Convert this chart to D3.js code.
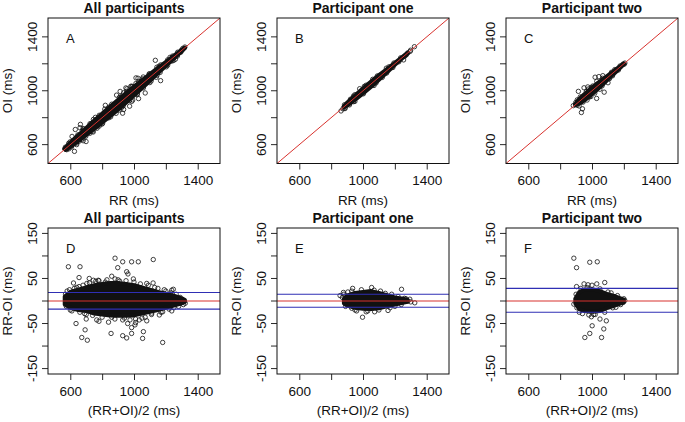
<!DOCTYPE html>
<html><head><meta charset="utf-8">
<script src="https://cdn.jsdelivr.net/npm/d3@7"></script>
<style>body{margin:0;background:#fff}svg{display:block}</style>
</head><body>
<svg id="c" width="685" height="422"></svg>
<script>
// ---------- DATA ----------
const titles = ["All participants", "Participant one", "Participant two"];
const topLetters = ["A", "B", "C"];
const botLetters = ["D", "E", "F"];
const axisTicks = [600, 800, 1000, 1200, 1400];
const axisLabels = [600, 1000, 1400];
const diffTicks = [-150, -100, -50, 0, 50, 100, 150];
const diffLabels = [-150, -50, 50, 150];

// dense core of the cloud (read as envelope): mean (ms), upper and lower RR-OI (ms)
const coreAllMean = [565, 600, 650, 700, 750, 800, 850, 900, 950, 1000, 1050, 1100, 1150, 1200, 1250, 1300, 1320];
const coreAllUp   = [10, 20, 25, 30, 35, 38, 40, 40, 38, 35, 30, 25, 20, 16, 12, 6, 2];
const coreAllLo   = [-8, -15, -20, -22, -28, -30, -32, -33, -33, -32, -28, -24, -20, -15, -10, -5, -2];

const coreOneMean = [880, 900, 950, 1000, 1050, 1100, 1150, 1200, 1250, 1280];
const coreOneUp   = [5, 12, 18, 20, 22, 18, 13, 8, 5, 3];
const coreOneLo   = [-5, -10, -15, -17, -18, -16, -12, -8, -4, -2];

const coreTwoMean = [895, 920, 950, 1000, 1050, 1100, 1150, 1200];
const coreTwoUp   = [5, 20, 25, 26, 22, 15, 10, 3];
const coreTwoLo   = [-5, -18, -22, -24, -22, -15, -9, -3];

// individually visible beats: mean (ms) and RR-OI (ms)
const ptsAllMean = [588, 661, 655, 655, 881, 898, 929, 985, 1027, 1121, 954, 962, 996, 1080, 881, 719, 704, 776, 745, 1237, 1247, 1299, 1322, 1237, 1180,
  636, 672, 693, 707, 766, 856, 840, 960, 929, 954, 985, 985, 1006, 1059, 1054, 1180, 1080, 929, 1033, 1159, 1111,
  580, 600, 625, 690, 760, 820, 860, 910, 940, 1010, 1040, 1070, 1130, 1200, 1265, 1280, 1220,
  570, 575, 595, 610, 640, 660, 680, 700, 720, 740, 780, 800, 830, 880, 900, 950, 975, 1000, 1050, 1090, 1110, 1150, 1170, 1190, 1230, 1250, 1290, 1310, 620, 700, 860, 1010, 1120, 780];
const ptsAllDiff = [76, 76, 52, 32, 95, 74, 87, 87, 87, 92, 65, 60, 49, 39, 49, 50, 39, 46, 46, 24, 26, -3, -5, -22, -24,
  -50, -81, -64, -87, -42, -72, -47, -50, -77, -82, -72, -59, -53, -68, -83, -92, -44, -42, -42, -31, -27,
  22, -20, 28, -28, 44, 42, -36, 44, -38, -40, 38, -36, 30, 22, 15, -12, -18,
  15, -12, 25, -22, 30, -25, 35, -30, 40, -32, 45, -36, 47, -40, 47, 45, -42, 42, -38, 35, -30, 28, -25, 25, 18, -15, 8, -8, 40, -40, 55, -48, 40, -45];

const ptsOneMean = [856, 877, 870, 935, 1054, 1242, 1294, 1325, 1282, 997, 1073, 1157, 929, 905, 960, 1020, 1110, 1180, 1200, 1260,
  880, 890, 930, 950, 990, 1030, 1070, 1100, 1140, 1170, 1220, 1240, 1270, 1300];
const ptsOneDiff = [12, 19, 8, 28, 30, 26, 4, -4, 0, -36, -24, -21, -16, 20, -22, -24, 22, 15, -12, 6,
  15, -12, 22, -20, 25, -22, 24, -20, 17, -15, 10, -8, 5, -2];

const ptsTwoMean = [886, 903, 986, 1033, 1080, 886, 955, 986, 1001, 1060, 1074, 1090, 1050, 996, 980, 903, 950, 975, 1000, 1030, 1196, 1206, 920, 1120, 1150, 1010,
  900, 905, 930, 940, 970, 1020, 1050, 1080, 1100, 1130, 1160, 1180, 1200];
const ptsTwoDiff = [95, 74, 86, 87, 41, -7, -81, -72, -55, -81, -62, -44, -40, -35, -31, 32, 38, 36, 35, 38, -3, 1, -25, 18, -14, -30,
  15, -15, 28, -28, 30, -30, 27, -25, 20, -15, 12, -8, 5];

// limits of agreement (ms)
const loaUpper = [19, 15, 28];
const loaLower = [-18, -14, -25];

// ---------- BUILD ----------
const groups = [
  {core: {m: coreAllMean, u: coreAllUp, l: coreAllLo}, pts: {m: ptsAllMean, d: ptsAllDiff}},
  {core: {m: coreOneMean, u: coreOneUp, l: coreOneLo}, pts: {m: ptsOneMean, d: ptsOneDiff}},
  {core: {m: coreTwoMean, u: coreTwoUp, l: coreTwoLo}, pts: {m: ptsTwoMean, d: ptsTwoDiff}}
];

const svg = d3.select("#c");
const FONT = "'Liberation Sans', Arial, Helvetica, sans-serif";
const INK = "#111";
const colLeft = [48, 277, 506];
const W = 172;
const rowTop = [18, 228];
const rowBot = [163.5, 374];
const RED = "#d8322e", BLUE = "#2f2fb4";

function yAxisTicks(g, y, ticks, labels, x0) {
  ticks.forEach(t => {
    g.append("line").attr("x1", x0 - 6).attr("x2", x0).attr("y1", y(t)).attr("y2", y(t))
      .attr("stroke", INK).attr("stroke-width", 0.9);
    if (labels.includes(t)) {
      g.append("text").attr("transform", `translate(${x0 - 11},${y(t)}) rotate(-90)`)
        .attr("text-anchor", "middle").attr("font-family", FONT).attr("font-size", 13.5).attr("fill", INK)
        .text(t);
    }
  });
}

groups.forEach((G, i) => {
  const x0 = colLeft[i];
  const x = d3.scaleLinear().domain([460, 1540]).range([x0, x0 + W]);
  const rr = G.pts.m.map((m, k) => m + G.pts.d[k] / 2);
  const oi = G.pts.m.map((m, k) => m - G.pts.d[k] / 2);

  [0, 1].forEach(r => {
    const yTop = rowTop[r], yBottom = rowBot[r];
    const y = r === 0
      ? d3.scaleLinear().domain([460, 1540]).range([yBottom, yTop])
      : d3.scaleLinear().domain([-162, 162]).range([yBottom, yTop]);
    const g = svg.append("g");
    const cid = `clip${i}${r}`;
    svg.append("clipPath").attr("id", cid).append("rect")
      .attr("x", x0).attr("y", yTop).attr("width", W).attr("height", yBottom - yTop);
    const inner = g.append("g").attr("clip-path", `url(#${cid})`);

    if (r === 0) {
      const upPts = G.core.m.map((m, k) => [m + G.core.u[k] / 2, m - G.core.u[k] / 2]);
      const loPts = G.core.m.map((m, k) => [m + G.core.l[k] / 2, m - G.core.l[k] / 2]).reverse();
      const poly = upPts.concat(loPts);
      inner.append("path")
        .attr("d", d3.line().x(p => x(p[0])).y(p => y(p[1])).curve(d3.curveLinearClosed)(poly))
        .attr("fill", INK).attr("stroke", INK).attr("stroke-width", 4).attr("stroke-linejoin", "round");
      inner.selectAll("circle.p").data(rr).join("circle")
        .attr("cx", (d, k) => x(rr[k])).attr("cy", (d, k) => y(oi[k])).attr("r", 2.2)
        .attr("fill", "none").attr("stroke", INK).attr("stroke-width", 0.8);
      inner.append("line").attr("x1", x(460)).attr("y1", y(460)).attr("x2", x(1540)).attr("y2", y(1540))
        .attr("stroke", RED).attr("stroke-width", 1);
    } else {
      const area = d3.area().x((d, k) => x(G.core.m[k])).y0((d, k) => y(G.core.l[k])).y1((d, k) => y(G.core.u[k]));
      inner.append("path").attr("d", area(G.core.m))
        .attr("fill", INK).attr("stroke", INK).attr("stroke-width", 4).attr("stroke-linejoin", "round");
      inner.selectAll("circle.p").data(G.pts.m).join("circle")
        .attr("cx", d => x(d)).attr("cy", (d, k) => y(G.pts.d[k])).attr("r", 2.2)
        .attr("fill", "none").attr("stroke", INK).attr("stroke-width", 0.8);
      [loaUpper[i], loaLower[i]].forEach(v => {
        inner.append("line").attr("x1", x0).attr("x2", x0 + W).attr("y1", y(v)).attr("y2", y(v))
          .attr("stroke", BLUE).attr("stroke-width", 1.1);
      });
      inner.append("line").attr("x1", x0).attr("x2", x0 + W).attr("y1", y(0)).attr("y2", y(0))
        .attr("stroke", RED).attr("stroke-width", 1.1);
    }

    g.append("rect").attr("x", x0).attr("y", yTop).attr("width", W).attr("height", yBottom - yTop)
      .attr("fill", "none").attr("stroke", INK).attr("stroke-width", 1);

    const xa = g.append("g").attr("transform", `translate(0,${yBottom})`)
      .call(d3.axisBottom(x).tickValues(axisTicks).tickSize(6).tickPadding(6)
        .tickFormat(d => axisLabels.includes(d) ? d : ""));
    xa.select(".domain").remove();
    xa.selectAll("line").attr("stroke", INK).attr("stroke-width", 0.9);
    xa.selectAll("text").attr("font-family", FONT).attr("font-size", 13.5).attr("fill", INK);

    if (r === 0) yAxisTicks(g, y, axisTicks, axisLabels, x0);
    else yAxisTicks(g, y, diffTicks, diffLabels, x0);

    g.append("text").attr("x", x0 + W / 2).attr("y", yTop - 5).attr("text-anchor", "middle")
      .attr("font-family", FONT).attr("font-weight", "bold").attr("font-size", 14).attr("fill", INK)
      .text(titles[i]);
    g.append("text").attr("x", x0 + W / 2).attr("y", yBottom + 41).attr("text-anchor", "middle")
      .attr("font-family", FONT).attr("font-size", 13.5).attr("fill", INK)
      .text(r === 0 ? "RR (ms)" : "(RR+OI)/2 (ms)");
    g.append("text").attr("transform", `translate(${x0 - 36},${(yTop + yBottom) / 2}) rotate(-90)`)
      .attr("text-anchor", "middle").attr("font-family", FONT).attr("font-size", 13.5).attr("fill", INK)
      .text(r === 0 ? "OI (ms)" : "RR-OI (ms)");
    g.append("text").attr("x", x0 + 18).attr("y", yTop + 24.5)
      .attr("font-family", FONT).attr("font-size", 13).attr("fill", INK)
      .text(r === 0 ? topLetters[i] : botLetters[i]);
  });
});
</script>
</body></html>
